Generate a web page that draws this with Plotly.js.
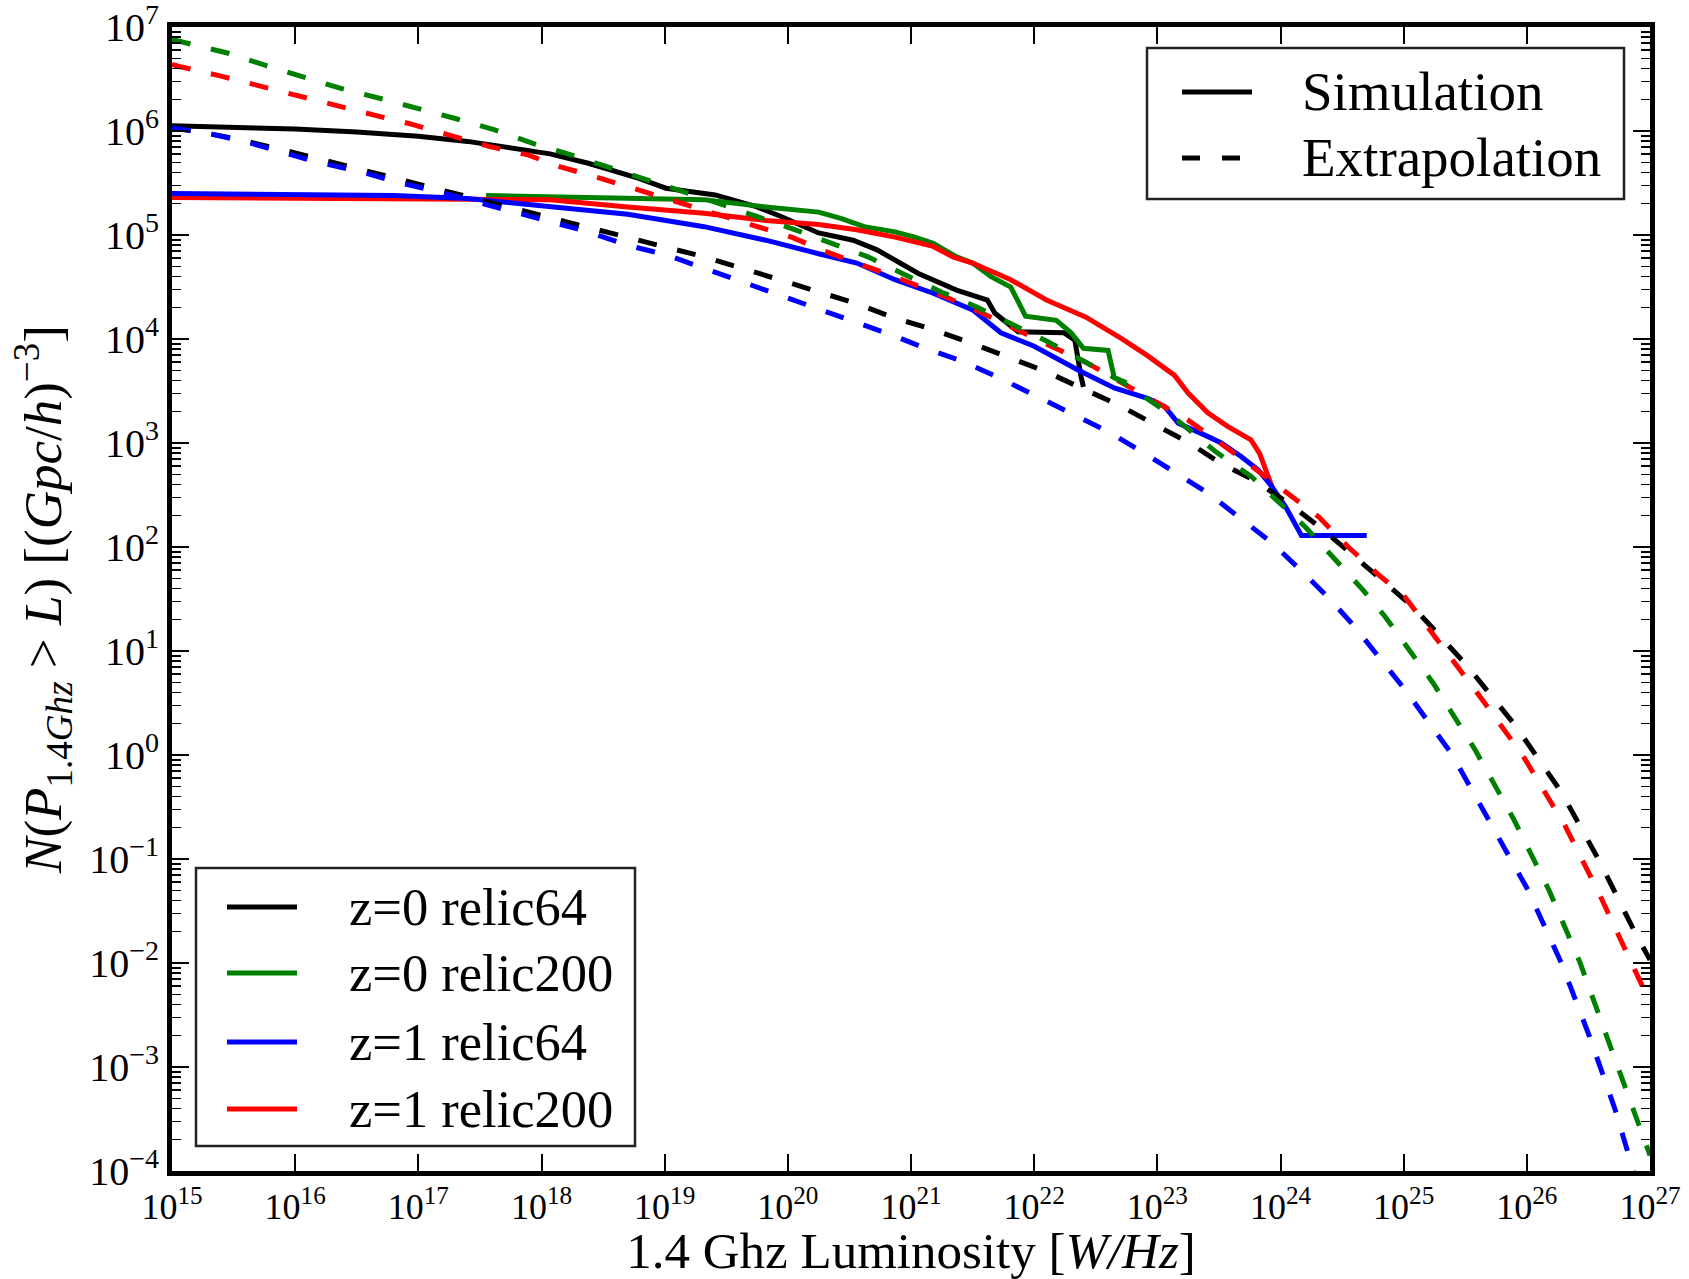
<!DOCTYPE html>
<html>
<head>
<meta charset="utf-8">
<script src="https://cdn.plot.ly/plotly-3.0.1.min.js"></script>
<style>
html,body{margin:0;padding:0;background:#fff;}
#chart{width:1689px;height:1279px;}
</style>
</head>
<body>
<div id="chart"></div>
<script>
// ---------------- DATA (log10 values) ----------------
// Simulation curves (solid)
const simZ0r64_logL = [15.0, 15.5, 16.0, 16.5, 17.0, 17.4, 17.8, 18.07, 18.38, 18.79, 19.01, 19.41, 19.75, 19.94, 20.25, 20.53, 20.72, 21.06, 21.37, 21.62, 21.68, 21.78, 21.87, 22.24, 22.33, 22.38, 22.40];
const simZ0r64_logN = [6.05, 6.04, 6.02, 5.99, 5.95, 5.90, 5.83, 5.78, 5.69, 5.545, 5.45, 5.385, 5.27, 5.18, 5.02, 4.95, 4.86, 4.63, 4.47, 4.375, 4.25, 4.15, 4.07, 4.06, 3.99, 3.64, 3.54];

const simZ0r200_logL = [17.55, 18.07, 18.70, 19.32, 19.82, 20.25, 20.43, 20.62, 20.87, 21.03, 21.18, 21.37, 21.50, 21.65, 21.81, 21.88, 21.93, 22.18, 22.30, 22.40, 22.60, 22.65, 22.75];
const simZ0r200_logN = [5.38, 5.37, 5.35, 5.34, 5.27, 5.22, 5.16, 5.08, 5.03, 4.98, 4.92, 4.79, 4.73, 4.60, 4.50, 4.35, 4.22, 4.18, 4.06, 3.91, 3.89, 3.63, 3.58];

const simZ1r64_logL = [15.0, 16.0, 16.8, 17.4, 18.07, 18.48, 18.70, 19.32, 19.82, 20.25, 20.56, 20.87, 21.18, 21.50, 21.73, 22.0, 22.36, 22.65, 22.92, 23.06, 23.17, 23.36, 23.52, 23.68, 23.82, 23.93, 24.04, 24.17, 24.70];
const simZ1r64_logN = [5.40, 5.395, 5.38, 5.35, 5.27, 5.22, 5.20, 5.08, 4.95, 4.82, 4.73, 4.57, 4.44, 4.28, 4.06, 3.93, 3.70, 3.53, 3.43, 3.35, 3.19, 3.09, 3.00, 2.87, 2.74, 2.58, 2.39, 2.11, 2.11];

const simZ1r200_logL = [15.0, 16.0, 17.0, 17.6, 18.07, 18.70, 19.32, 19.82, 20.25, 20.56, 20.87, 21.18, 21.34, 21.50, 21.81, 22.10, 22.42, 22.70, 22.92, 23.14, 23.25, 23.41, 23.57, 23.76, 23.83, 23.90, 23.95];
const simZ1r200_logN = [5.36, 5.355, 5.35, 5.345, 5.34, 5.27, 5.21, 5.14, 5.10, 5.05, 4.98, 4.89, 4.79, 4.73, 4.57, 4.375, 4.21, 4.01, 3.84, 3.65, 3.48, 3.29, 3.16, 3.03, 2.90, 2.68, 2.52];

// Extrapolation curves (dashed)
const extZ0r64_logL = [15.0, 15.5, 16.0, 16.5, 17.0, 17.5, 18.07, 18.38, 18.70, 19.01, 19.32, 19.63, 19.94, 20.25, 20.56, 20.87, 21.18, 21.49, 21.78, 22.09, 22.38, 22.68, 22.96, 23.26, 23.52, 23.79, 24.09, 24.33, 24.58, 24.82, 25.08, 25.51, 25.905, 26.28, 26.58, 26.88, 27.0];
const extZ0r64_logN = [6.04, 5.93, 5.79, 5.64, 5.49, 5.335, 5.17, 5.08, 4.98, 4.89, 4.79, 4.68, 4.57, 4.45, 4.34, 4.20, 4.09, 3.96, 3.83, 3.69, 3.53, 3.37, 3.19, 3.00, 2.80, 2.64, 2.40, 2.18, 1.93, 1.68, 1.42, 0.865, 0.286, -0.357, -1.0, -1.71, -1.97];

const extZ0r200_logL = [15.0, 15.13, 15.45, 15.76, 16.06, 16.37, 16.70, 17.0, 17.30, 17.62, 17.93, 18.24, 18.6, 19.0, 19.5, 20.06, 20.37, 20.65, 20.93, 21.25, 21.53, 22.1, 22.71, 23.1, 23.47, 23.76, 24.20, 24.44, 24.66, 24.85, 25.24, 25.58, 25.89, 26.18, 26.43, 26.65, 26.86, 27.0];
const extZ0r200_logN = [6.88, 6.84, 6.75, 6.63, 6.52, 6.41, 6.31, 6.22, 6.12, 6.01, 5.88, 5.77, 5.63, 5.48, 5.28, 5.05, 4.92, 4.79, 4.63, 4.45, 4.31, 3.98, 3.59, 3.28, 2.92, 2.68, 2.195, 1.88, 1.60, 1.33, 0.69, 0.05, -0.61, -1.30, -1.99, -2.71, -3.40, -3.85];

const extZ1r64_logL = [15.0, 15.28, 15.59, 15.89, 16.18, 16.53, 16.82, 17.15, 17.46, 17.76, 18.07, 18.38, 18.70, 19.01, 19.32, 19.63, 19.91, 20.22, 20.53, 20.84, 21.12, 21.43, 21.71, 22.0, 22.30, 22.60, 22.87, 23.14, 23.41, 23.67, 23.93, 24.17, 24.40, 24.59, 25.01, 25.39, 25.70, 26.01, 26.28, 26.51, 26.72, 26.82, 26.89];
const extZ1r64_logN = [6.03, 5.98, 5.90, 5.80, 5.70, 5.61, 5.51, 5.42, 5.32, 5.22, 5.12, 5.03, 4.90, 4.81, 4.68, 4.55, 4.44, 4.31, 4.18, 4.04, 3.91, 3.78, 3.63, 3.46, 3.29, 3.11, 2.92, 2.72, 2.52, 2.28, 2.04, 1.77, 1.50, 1.25, 0.63, 0.01, -0.64, -1.30, -2.00, -2.71, -3.42, -3.81, -4.1];

const extZ1r200_logL = [15.0, 15.06, 15.39, 15.72, 16.01, 16.32, 16.65, 16.93, 17.26, 17.58, 17.89, 18.14, 18.48, 18.80, 19.44, 19.72, 20.03, 20.31, 20.62, 20.93, 21.25, 21.56, 22.12, 22.43, 22.8, 23.25, 23.65, 24.04, 24.31, 24.55, 24.79, 25.01, 25.22, 25.59, 25.97, 26.31, 26.59, 26.86, 27.0];
const extZ1r200_logN = [6.64, 6.62, 6.53, 6.43, 6.34, 6.24, 6.15, 6.07, 5.96, 5.85, 5.77, 5.66, 5.545, 5.43, 5.19, 5.10, 4.98, 4.84, 4.71, 4.57, 4.42, 4.26, 3.94, 3.77, 3.52, 3.22, 2.88, 2.53, 2.29, 2.0, 1.74, 1.52, 1.19, 0.61, -0.01, -0.68, -1.34, -2.03, -2.38];

// Labels
const seriesNames = ["z=0 relic64", "z=0 relic200", "z=1 relic64", "z=1 relic200"];
const styleNames = ["Simulation", "Extrapolation"];
const xTickExps = [15, 16, 17, 18, 19, 20, 21, 22, 23, 24, 25, 26, 27];
const yTickExps = [-4, -3, -2, -1, 0, 1, 2, 3, 4, 5, 6, 7];
const xTitleText = "1.4 Ghz Luminosity [<i>W/Hz</i>]";
const yTitleText = "<i>N</i>(<i>P</i><sub>1.4<i>Ghz</i></sub> &gt; <i>L</i>) [(<i>Gpc</i>/<i>h</i>)<sup>\u22123</sup>]";

// ---------------- STYLE / LAYOUT ----------------
const W = 1689, H = 1279;
const M = {l: 172, r: 39, t: 27, b: 108};
const seriesColors = ["#000000", "#008000", "#0000ff", "#ff0000"];
const LW = 5;
const DASH = "19px,21px";
const FONT = "Liberation Serif, Times New Roman, serif";

const pow10 = v => Math.pow(10, v);
function curve(lx, ly, color, dash) {
  return {
    type: "scatter", mode: "lines",
    x: lx.map(pow10), y: ly.map(pow10),
    line: {color: color, width: LW, dash: dash},
    showlegend: false, hoverinfo: "skip"
  };
}

const traces = [
  curve(simZ0r64_logL, simZ0r64_logN, seriesColors[0], "solid"),
  curve(simZ0r200_logL, simZ0r200_logN, seriesColors[1], "solid"),
  curve(simZ1r200_logL, simZ1r200_logN, seriesColors[3], "solid"),
  curve(simZ1r64_logL, simZ1r64_logN, seriesColors[2], "solid"),
  curve(extZ0r64_logL, extZ0r64_logN, seriesColors[0], DASH),
  curve(extZ1r200_logL, extZ1r200_logN, seriesColors[3], DASH),
  curve(extZ0r200_logL, extZ0r200_logN, seriesColors[1], DASH),
  curve(extZ1r64_logL, extZ1r64_logN, seriesColors[2], DASH)
];

const expLabel = e => "10<sup>" + (e < 0 ? "\u2212" + (-e) : e) + "</sup>";

// pixel -> paper helpers for the hand-drawn legends
const PW = W - M.l - M.r, PH = H - M.t - M.b;
const px = X => (X - M.l) / PW;
const py = Y => (H - M.b - Y) / PH;

const shapes = [];
const annotations = [];
function legendBox(x0, y0, x1, y1) {
  shapes.push({type: "rect", xref: "paper", yref: "paper", x0: px(x0), x1: px(x1), y0: py(y0), y1: py(y1),
    line: {color: "#222", width: 2.5}, fillcolor: "#ffffff", layer: "above"});
}
function legendItem(lineX0, lineX1, textX, Y, color, dash, label, fontSize) {
  shapes.push({type: "line", xref: "paper", yref: "paper", x0: px(lineX0), x1: px(lineX1), y0: py(Y), y1: py(Y),
    line: {color: color, width: LW, dash: dash}, layer: "above"});
  annotations.push({xref: "paper", yref: "paper", x: px(textX), y: py(Y), xanchor: "left", yanchor: "middle",
    text: label, showarrow: false, font: {family: FONT, size: fontSize, color: "#000"}});
}
// style legend (top right)
legendBox(1147, 48, 1624, 199);
legendItem(1182, 1252, 1300, 92, "#000", "solid", styleNames[0], 55);
legendItem(1182, 1252, 1300, 158, "#000", "18px,22px", styleNames[1], 55);
// series legend (bottom left)
legendBox(196, 868, 635, 1146);
const rowsY = [907, 973, 1042, 1109];
seriesNames.forEach((n, i) => legendItem(227, 297, 347, rowsY[i], seriesColors[i], "solid", n, 52.5));

const layout = {
  width: W, height: H,
  margin: M,
  paper_bgcolor: "#ffffff", plot_bgcolor: "#ffffff",
  font: {family: FONT, color: "#000"},
  showlegend: false,
  xaxis: {
    type: "log", range: [14.99999, 27.00001],
    tickmode: "array", tickvals: xTickExps.map(pow10), ticktext: xTickExps.map(expLabel),
    ticks: "inside", ticklen: 17, tickwidth: 2, tickcolor: "#000",
    showline: true, linewidth: 5, linecolor: "#000", mirror: "allticks",
    showgrid: false, zeroline: false,
    ticklabeloverflow: "allow",
    tickfont: {family: FONT, size: 36, color: "#000"},
    title: {text: xTitleText, font: {family: FONT, size: 51, color: "#000"}, standoff: 15}
  },
  yaxis: {
    type: "log", range: [-4.00001, 7.00001],
    tickmode: "array", tickvals: yTickExps.map(pow10), ticktext: yTickExps.map(expLabel),
    ticks: "inside", ticklen: 17, tickwidth: 2, tickcolor: "#000",
    minor: {ticks: "inside", ticklen: 9, tickwidth: 1.5, tickcolor: "#000", dtick: "D1", showgrid: false},
    showline: true, linewidth: 5, linecolor: "#000", mirror: "allticks",
    showgrid: false, zeroline: false,
    ticklabeloverflow: "allow",
    tickfont: {family: FONT, size: 40, color: "#000"},
    title: {text: yTitleText, font: {family: FONT, size: 53, color: "#000"}, standoff: 12}
  },
  shapes: shapes,
  annotations: annotations
};

Plotly.newPlot("chart", traces, layout, {staticPlot: true, displayModeBar: false});
</script>
</body>
</html>
